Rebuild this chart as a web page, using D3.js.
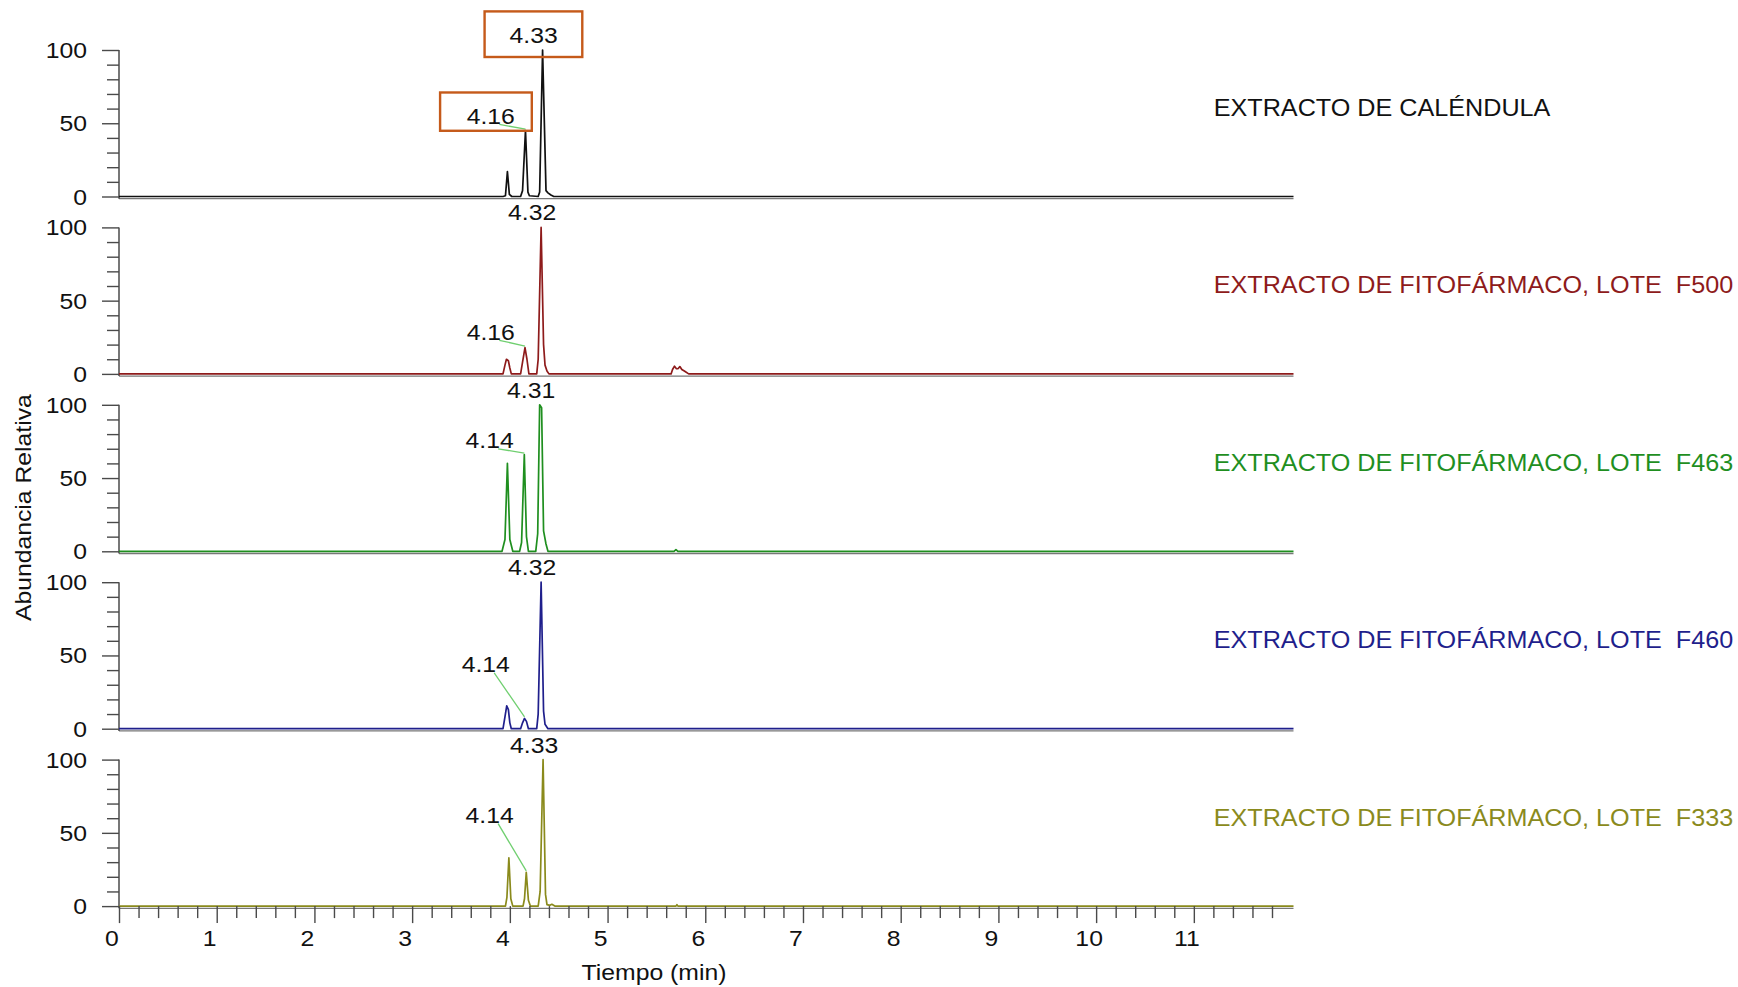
<!DOCTYPE html>
<html><head><meta charset="utf-8">
<script src="https://cdn.jsdelivr.net/npm/d3@7"></script>
<style>body{margin:0;background:#fff} svg{display:block} text{font-family:Arial,"Liberation Sans",sans-serif; white-space:pre}</style>
</head><body><svg id="c" width="1738" height="987"></svg>
<script>
// ---------- data ----------
const sampleNames = [
  "EXTRACTO DE CALÉNDULA",
  "EXTRACTO DE FITOFÁRMACO, LOTE  F500",
  "EXTRACTO DE FITOFÁRMACO, LOTE  F463",
  "EXTRACTO DE FITOFÁRMACO, LOTE  F460",
  "EXTRACTO DE FITOFÁRMACO, LOTE  F333"
];
const traceColors = ["#111111", "#8e1b1b", "#1f8f1f", "#1f1f8c", "#8a8a1c"];

// [time (min), relative abundance (%)]
const traceCalendula = [[0,0],[3.93,0],[3.955,0.5],[3.975,17],[3.995,1.5],[4.02,0],[4.11,0],[4.13,4],[4.16,45],[4.185,3],[4.2,0.5],[4.29,0],[4.305,3],[4.335,100],[4.37,4],[4.39,2.5],[4.42,1],[4.45,0],[12.02,0]];
const traceF500 = [[0,0],[3.93,0],[3.95,6],[3.965,10],[3.985,9],[4.0,4],[4.015,0],[4.11,0],[4.13,8],[4.155,18],[4.175,10],[4.195,0],[4.275,0],[4.29,10],[4.32,100],[4.345,20],[4.36,6],[4.38,2],[4.40,0],[5.65,0],[5.665,3],[5.685,5.3],[5.705,3.5],[5.72,3.5],[5.74,5],[5.76,3],[5.79,1.8],[5.83,0],[12.02,0]];
const traceF463 = [[0,0],[3.92,0],[3.95,8],[3.975,60],[4.0,8],[4.03,0],[4.10,0],[4.12,6],[4.148,66],[4.17,10],[4.19,0],[4.265,0],[4.285,12],[4.305,100],[4.325,98],[4.345,14],[4.37,5],[4.39,0],[5.68,0],[5.70,1.2],[5.72,0],[12.02,0]];
const traceF460 = [[0,0],[3.93,0],[3.95,8],[3.968,15.6],[3.985,13],[4.0,4],[4.015,0],[4.11,0],[4.13,4],[4.15,7],[4.17,5],[4.19,0],[4.275,0],[4.29,10],[4.32,100],[4.345,12],[4.36,3],[4.39,0],[12.02,0]];
const traceF333 = [[0,0],[3.955,0],[3.97,6],[3.99,33],[4.01,5],[4.03,0],[4.135,0],[4.15,5],[4.168,23],[4.19,4],[4.21,0],[4.29,0],[4.31,10],[4.34,100],[4.365,8],[4.38,1],[4.41,0.5],[4.43,1.2],[4.46,0],[5.70,0],[5.71,1],[5.72,0],[12.02,0]];
const traces = [traceCalendula, traceF500, traceF463, traceF460, traceF333];

// peak annotations
const mainPeakLabels = ["4.33", "4.32", "4.31", "4.32", "4.33"];
const mainPeakTimes = [4.335, 4.32, 4.31, 4.32, 4.34];
const minorPeakLabels = ["4.16", "4.16", "4.14", "4.14", "4.14"];
const minorPeakTimes = [4.16, 4.155, 4.148, 4.15, 4.168];
const minorPeakHeights = [45, 18, 66, 7, 23];
const minorLabelTimes = [3.805, 3.805, 3.793, 3.753, 3.793];
const minorLabelHeights = [49.5, 23.3, 70.3, 38.5, 56.6];
const boxedPanel = 0;

const xMajorTicks = [0,1,2,3,4,5,6,7,8,9,10,11];
const xMinorTicks = d3.range(0, 60).map(i => i / 5).filter(v => v % 1 !== 0);
const yMajorTicks = [0, 50, 100];
const yMinorTicks = [10, 20, 30, 40, 60, 70, 80, 90];
const xTitle = "Tiempo (min)";
const yTitle = "Abundancia Relativa";

// ---------- layout ----------
const svg = d3.select("#c");
const left = 119, right = 1293.5;
const panelTop0 = 50, panelStep = 177.4, panelH = 146.5;
const x = d3.scaleLinear().domain([0, 12.02]).range([left, right]);
const SX = 1.1;
const axisCol = "#4a4a4a";

function txt(g, px, py, s, size, anchor, color, sx) {
  return g.append("text")
    .attr("transform", `translate(${px},${py}) scale(${sx || SX},1)`)
    .attr("text-anchor", anchor).attr("font-size", size)
    .attr("fill", color || "#111").text(s);
}

traces.forEach((tr, i) => {
  const top = panelTop0 + panelStep * i;
  const y = d3.scaleLinear().domain([0, 100]).range([top + panelH, top]);
  const g = svg.append("g");
  const y0 = y(0);

  // bottom axis line of panel
  g.append("line").attr("x1", left).attr("x2", right).attr("y1", y0 + 2.2).attr("y2", y0 + 2.2)
    .attr("stroke", "#777").attr("stroke-width", 1.3);

  // y axis
  const ya = d3.axisLeft(y).tickValues(yMajorTicks).tickSize(17).tickFormat("");
  const ya2 = d3.axisLeft(y).tickValues(yMinorTicks).tickSize(12).tickFormat("");
  [ya, ya2].forEach(a => {
    const ag = g.append("g").attr("transform", `translate(${left},0)`).call(a);
    ag.select(".domain").remove();
    ag.selectAll("line").attr("stroke", axisCol).attr("stroke-width", 1.4);
  });
  g.append("line").attr("x1", left).attr("x2", left).attr("y1", y(100)).attr("y2", y0 + 2.2)
    .attr("stroke", axisCol).attr("stroke-width", 1.5);
  yMajorTicks.forEach(v => txt(g, 87, y(v) + 8, String(v), 22.5, "end", "#111"));

  // trace
  const line = d3.line().x(d => x(d[0])).y(d => y(d[1]));
  g.append("path").datum(tr).attr("d", line).attr("fill", "none")
    .attr("stroke", traceColors[i]).attr("stroke-width", 1.7).attr("stroke-linejoin", "round");

  // main peak label
  const mx = x(mainPeakTimes[i]) - 9, my = y(100) - 7;
  txt(g, mx, my, mainPeakLabels[i], 22.5, "middle", "#111");

  // minor peak label + leader
  const lx = x(minorLabelTimes[i]), ly = y(minorLabelHeights[i]);
  g.append("line").attr("x1", lx + 8.5).attr("y1", ly + 0.5)
    .attr("x2", x(minorPeakTimes[i])).attr("y2", y(minorPeakHeights[i]) - 1.5)
    .attr("stroke", "#6fcf6f").attr("stroke-width", 1.3);
  txt(g, lx, ly, minorPeakLabels[i], 22.5, "middle", "#111");

  if (i === boxedPanel) {
    g.append("rect").attr("x", mx - 49).attr("y", my - 31.6).attr("width", 97.7).attr("height", 45.6)
      .attr("fill", "none").attr("stroke", "#c55a1a").attr("stroke-width", 2.4);
    g.append("rect").attr("x", lx - 50.7).attr("y", ly - 31.5).attr("width", 91.7).attr("height", 38.3)
      .attr("fill", "none").attr("stroke", "#c55a1a").attr("stroke-width", 2.4);
  }

  // sample name
  txt(g, 1213.7, top + 66, sampleNames[i], 23, "start", traceColors[i] === "#111111" ? "#111" : traceColors[i], 1.095);

  // x axis on bottom panel
  if (i === traces.length - 1) {
    const xa = d3.axisBottom(x).tickValues(xMajorTicks).tickSize(17).tickFormat("");
    const xa2 = d3.axisBottom(x).tickValues(xMinorTicks).tickSize(12).tickFormat("");
    [xa, xa2].forEach(a => {
      const ag = g.append("g").attr("transform", `translate(0,${y0})`).call(a);
      ag.select(".domain").remove();
      ag.selectAll("line").attr("stroke", axisCol).attr("stroke-width", 1.4);
    });
    xMajorTicks.forEach(v => txt(g, x(v) - 7, y0 + 40, String(v), 22.5, "middle", "#111"));
    txt(svg, 654, 979.5, xTitle, 22.5, "middle", "#111");
  }
});

// y title
svg.append("text").attr("transform", `translate(31,507.6) rotate(-90) scale(1.1,1)`)
  .attr("text-anchor", "middle").attr("font-size", 22.5).attr("fill", "#111").text(yTitle);
</script></body></html>
